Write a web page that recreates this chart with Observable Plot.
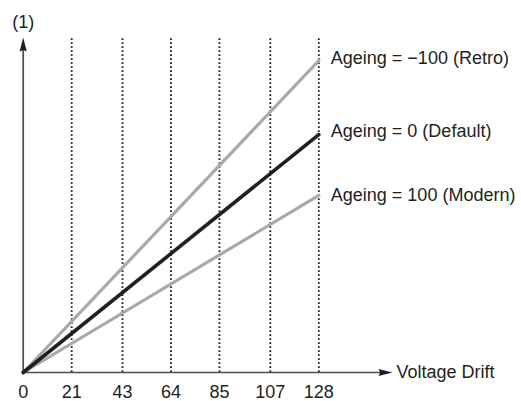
<!DOCTYPE html>
<html>
<head>
<meta charset="utf-8">
<script src="https://cdn.jsdelivr.net/npm/d3@7"></script>
<script src="https://cdn.jsdelivr.net/npm/@observablehq/plot@0.6"></script>
<style>
  html, body { margin: 0; padding: 0; background: #fff; }
  svg { display: block; }
</style>
</head>
<body>
<div id="chart"></div>
<script>
// ---- data ----
const xTicks = [0, 21, 43, 64, 85, 107, 128];
const series = ["Retro", "Default", "Modern"];
const seriesLabels = ["Ageing = \u2212100 (Retro)", "Ageing = 0 (Default)", "Ageing = 100 (Modern)"];
const startValues = [0, 0, 0];
const endValues = [0.928, 0.708, 0.527];
const xStart = 0;
const xEnd = 128;
const xAxisLabel = "Voltage Drift";
const yAxisLabel = "(1)";

// ---- styles ----
const colors = {Retro: "#a7a9ac", Default: "#231f20", Modern: "#a7a9ac"};
const labelDy = {Retro: -2, Default: -3, Modern: 0};
const FS = 18;

const lineData = [];
series.forEach((s, i) => {
  lineData.push({series: s, x: xStart, y: startValues[i]});
  lineData.push({series: s, x: xEnd, y: endValues[i]});
});
const labelData = series.map((s, i) => ({series: s, label: seriesLabels[i], x: xEnd, y: endValues[i]}));

const ink = "#231f20";
const axisInk = "#4d4d4f";

// elongated arrowhead symbol (points up; rotate for right)
const arrowHead = {
  draw(context) {
    context.moveTo(0, -7);
    context.lineTo(3.6, 7);
    context.lineTo(0, 5.5);
    context.lineTo(-3.6, 7);
    context.closePath();
  }
};

const chart = Plot.plot({
  width: 521,
  height: 401,
  marginLeft: 22.7,
  marginRight: 133,
  marginTop: 36,
  marginBottom: 29,
  style: {fontFamily: "'Liberation Sans', Arial, Helvetica, sans-serif", fontSize: FS + "px", color: ink, background: "#fff"},
  x: {domain: [0, 128], range: [22.7, 318.3], axis: null},
  y: {domain: [0, 1], axis: null},
  marks: [
    // dotted verticals
    Plot.ruleX(xTicks.filter(d => d !== 0), {y1: 0, y2: 1, stroke: ink, strokeWidth: 1.8, strokeDasharray: "1.8,2.2"}),
    // axes lines
    Plot.ruleY([0], {x1: 0, x2: 155, stroke: axisInk, strokeWidth: 1.7}),
    Plot.ruleX([0], {y1: 0, y2: 0.965, stroke: axisInk, strokeWidth: 1.7}),
    // arrowheads
    Plot.dot([{x: 156.9, y: 0}], {x: "x", y: "y", symbol: arrowHead, r: 5, fill: ink, stroke: null, rotate: 90}),
    Plot.dot([{x: 0, y: 0.976}], {x: "x", y: "y", symbol: arrowHead, r: 5, fill: ink, stroke: null}),
    // series lines
    Plot.line(lineData.filter(d => d.series !== "Default"), {x: "x", y: "y", z: "series", stroke: d => colors[d.series], strokeWidth: 3.2}),
    Plot.line(lineData.filter(d => d.series === "Default"), {x: "x", y: "y", z: "series", stroke: colors.Default, strokeWidth: 3.6}),
    // series labels
    ...series.map(s => Plot.text(labelData.filter(d => d.series === s), {x: "x", y: "y", text: "label", textAnchor: "start", dx: 12, dy: labelDy[s], fill: ink, fontSize: FS})),
    // tick labels
    Plot.text(xTicks, {x: d => d, y: 0, text: d => String(d), lineAnchor: "top", dy: 13, fill: ink, fontSize: FS}),
    // axis titles
    Plot.text([xAxisLabel], {x: 161.6, y: 0, text: d => d, textAnchor: "start", fill: ink, fontSize: FS}),
    Plot.text([yAxisLabel], {x: 0, y: 1, text: d => d, dy: -14, fill: ink, fontSize: FS})
  ]
});
document.getElementById("chart").appendChild(chart);
</script>
</body>
</html>
